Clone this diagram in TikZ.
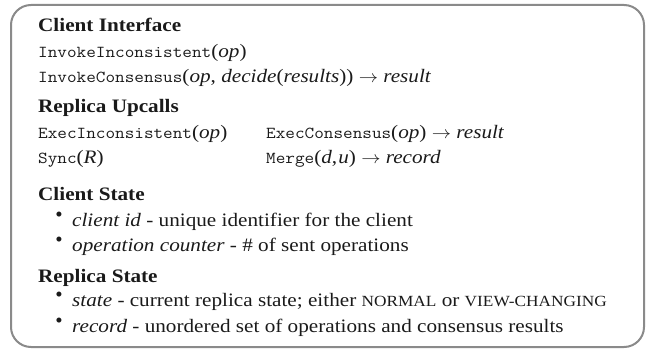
\documentclass[tikz,border=0pt]{standalone}
\usepackage{graphicx}
\usepackage{fontspec}
\setmainfont{Liberation Serif}
\definecolor{framegray}{HTML}{8A8A8A}
\definecolor{ink}{HTML}{1A1A1A}
\newcommand\sx[1]{\scalebox{1.115}[1]{#1}}
\newcommand\scap[1]{{\fontsize{15.5}{16}\selectfont #1}}
\newcommand\mono[1]{{\fontsize{16.75}{18}\selectfont\ttfamily #1}}
\begin{document}
\begin{tikzpicture}[x=1pt,y=-1pt,
  txt/.style={anchor=base west, inner sep=0pt, text=ink, font=\fontsize{19}{22}\selectfont},
  head/.style={txt, font=\fontsize{19}{22}\selectfont\bfseries},
  bul/.style={anchor=base, inner sep=0pt, text=ink, font=\fontsize{21}{22}\selectfont},
  frame/.style={draw=framegray, line width=2pt, rounded corners=20pt}]
\useasboundingbox (0,0) rectangle (647,350);
\draw[frame] (11,5) rectangle (644,347);
% Client Interface
\node[head] (ci) at (38,32) {\sx{Client Interface}};
\node[txt] (inv1) at (38,58) {\sx{\mono{InvokeInconsistent}(\textit{op})}};
\node[txt] (inv2) at (38,83) {\sx{\mono{InvokeConsensus}(\textit{op}, \textit{decide}(\textit{results})) $\rightarrow$ \textit{result}}};
% Replica Upcalls
\node[head] (ru) at (38,113) {\sx{Replica Upcalls}};
\node[txt] (ex1) at (38,138) {\sx{\mono{ExecInconsistent}(\textit{op})}};
\node[txt] (ex2) at (266,138) {\sx{\mono{ExecConsensus}(\textit{op}) $\rightarrow$ \textit{result}}};
\node[txt] (sy) at (38,163) {\sx{\mono{Sync}(\textit{R})}};
\node[txt] (mg) at (266,163) {\sx{\mono{Merge}(\textit{d},\kern1pt\textit{u}) $\rightarrow$ \textit{record}}};
% Client State
\node[head] (cs) at (38,200) {\sx{Client State}};
\node[bul] (b1) at (59,224) {\raisebox{2.5pt}{•}};
\node[txt] (cs1) at (72,226) {\sx{\textit{client id} - unique identifier for the client}};
\node[bul] (b2) at (59,249) {\raisebox{2.5pt}{•}};
\node[txt] (cs2) at (72,251) {\sx{\textit{operation counter} - \# of sent operations}};
% Replica State
\node[head] (rs) at (38,282) {\sx{Replica State}};
\node[bul] (b3) at (59,304) {\raisebox{2.5pt}{•}};
\node[txt] (rs1) at (72,306) {\sx{\textit{state} - current replica state; either \scap{NORMAL} or \scap{VIEW-CHANGING}}};
\node[bul] (b4) at (59,330) {\raisebox{2.5pt}{•}};
\node[txt] (rs2) at (72,332) {\sx{\textit{record} - unordered set of operations and consensus results}};
\end{tikzpicture}
\end{document}
